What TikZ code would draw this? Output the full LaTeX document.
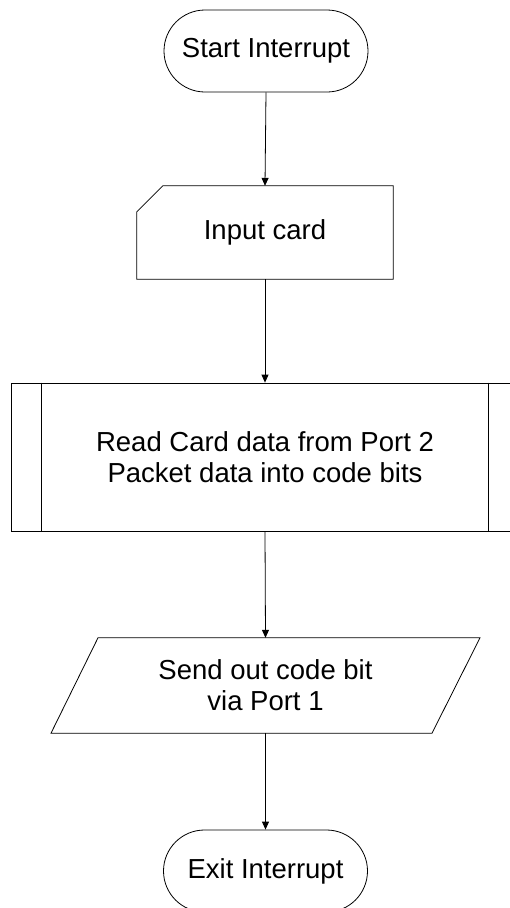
\documentclass[tikz,border=0pt]{standalone}
\usepackage{fontspec}
\setmainfont{Liberation Sans}
\usetikzlibrary{arrows.meta}

\tikzset{
    outline/.style={draw=black,line width=0.8pt},
    terminal/.style={outline,rounded corners=41pt,minimum width=204pt,minimum height=82pt},
    blank/.style={minimum width=#1,inner sep=0pt},
    flow/.style={line width=0.8pt,-{Triangle[length=8pt,width=7pt]}},
}

\begin{document}
\begin{tikzpicture}[x=1pt,y=-1pt,font=\fontsize{27.5}{31}\selectfont]

\clip (0,0) rectangle (510,908);
\fill[white] (0,0) rectangle (510,908);

% Draw the start and exit terminals
\node[terminal] (start) at (266,51) {Start Interrupt};
\node[terminal] (exit) at (265.5,871) {Exit Interrupt};

% Draw the input card with its cut corner
\node[blank=256pt,minimum height=93pt] (card) at (265,232.5) {Input card};
\draw[outline] ([yshift=-26pt]card.north west) -- ([xshift=26pt]card.north west)
    -- (card.north east) -- (card.south east) -- (card.south west) -- cycle;

% Draw the predefined process box
\node[outline,blank=508pt,minimum height=148pt,align=center] (read) at (265,457)
    {Read Card data from Port 2\\Packet data into code bits};
\foreach \s in {31,-31} {
    \draw[outline] ([xshift=\s pt]read.north west) -- ([xshift=\s pt]read.south west);
    \draw[outline] ([xshift=\s pt]read.north east) -- ([xshift=\s pt]read.south east);
}

% Draw the output parallelogram
\node[blank=382pt,minimum height=95pt,align=center] (send) at (265.5,685.5)
    {Send out code bit\\via Port 1};
\draw[outline] ([xshift=-167.5pt]send.north) -- ([xshift=214.5pt]send.north)
    -- ([xshift=166.5pt]send.south) -- ([xshift=-214.5pt]send.south) -- cycle;

% Draw the arrows between the steps
\foreach \a/\b in {start/card,card/read,read/send,send/exit} {
    \draw[flow] (\a.south) -- (\b.north);
}

\end{tikzpicture}
\end{document}
